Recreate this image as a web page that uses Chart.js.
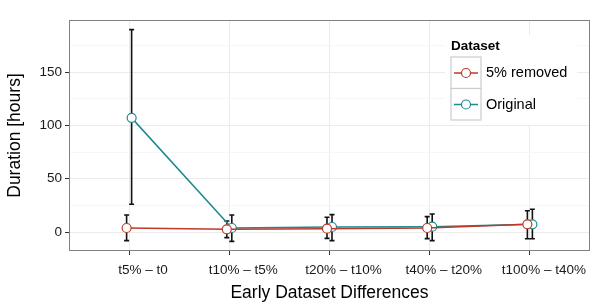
<!DOCTYPE html>
<html>
<head>
<meta charset="utf-8">
<script src="https://cdn.jsdelivr.net/npm/chart.js@4"></script>
<style>
  body { margin: 0; background: #fff; }
</style>
</head>
<body>
<canvas id="grafico" width="610" height="305"></canvas>
<script>
const categorias = ["t5% – t0", "t10% – t5%", "t20% – t10%", "t40% – t20%", "t100% – t40%"];
const removidoMedia = [3.75, 2.5, 3.1, 3.75, 7.2];
const removidoMin = [-8.1, -5.3, -6, -6.2, -6.3];
const removidoMax = [15.9, 10.3, 13.8, 14.4, 20];
const originalMedia = [107, 3.75, 4.7, 5, 7.2];
const originalMin = [26, -8.8, -8.1, -8.1, -6.3];
const originalMax = [189.7, 16, 16.3, 16.9, 21.3];
const yTicks = [0, 25, 50, 75, 100, 125, 150, 175];
const yLabels = [0, 50, 100, 150];

const fonte = "'Liberation Sans', Arial, sans-serif";
const corRemovido = "#bd3a2b";
const corOriginal = "#1b8a8f";
const dodge = 0.025;

function pontos(media, min, max, desloc) {
  return categorias.map((c, i) => ({ x: i + 1 + desloc, y: media[i], lo: min[i], hi: max[i] }));
}

/* barras de erro */
const barrasErro = {
  id: "barrasErro",
  beforeDatasetsDraw(chart) {
    const ctx = chart.ctx;
    const y = chart.scales.y;
    ctx.save();
    ctx.strokeStyle = "#111";
    ctx.lineWidth = 1.6;
    chart.data.datasets.forEach((ds, d) => {
      const meta = chart.getDatasetMeta(d);
      meta.data.forEach((el, i) => {
        const p = ds.data[i];
        const yLo = y.getPixelForValue(p.lo);
        const yHi = y.getPixelForValue(p.hi);
        ctx.beginPath();
        ctx.moveTo(el.x, yLo);
        ctx.lineTo(el.x, yHi);
        ctx.moveTo(el.x - 2.5, yLo);
        ctx.lineTo(el.x + 2.5, yLo);
        ctx.moveTo(el.x - 2.5, yHi);
        ctx.lineTo(el.x + 2.5, yHi);
        ctx.stroke();
      });
    });
    ctx.restore();
  },
};

/* borda do painel e legenda */
const painel = {
  id: "painel",
  afterDraw(chart) {
    const ctx = chart.ctx;
    const a = chart.chartArea;
    ctx.save();
    ctx.strokeStyle = "#808080";
    ctx.lineWidth = 1;
    ctx.strokeRect(a.left + 0.5, a.top + 0.5, a.right - a.left - 1, a.bottom - a.top - 1);

    // legenda
    ctx.fillStyle = "#fff";
    ctx.fillRect(445, 35, 132, 90);
    ctx.fillStyle = "#000";
    ctx.font = "bold 13.5px " + fonte;
    ctx.textBaseline = "alphabetic";
    ctx.fillText("Dataset", 451, 50);
    chart.data.datasets.forEach((ds, d) => {
      const top = 57 + d * 31.5;
      ctx.fillStyle = "#fff";
      ctx.fillRect(451, top, 30, 31.5);
      ctx.strokeStyle = "#cccccc";
      ctx.lineWidth = 1.2;
      ctx.strokeRect(451, top, 30, 31.5);
      const cy = top + 16;
      ctx.strokeStyle = ds.borderColor;
      ctx.lineWidth = 1.5;
      ctx.beginPath();
      ctx.moveTo(454, cy);
      ctx.lineTo(478, cy);
      ctx.stroke();
      ctx.beginPath();
      ctx.arc(466, cy, 4.5, 0, Math.PI * 2);
      ctx.fillStyle = "#fff";
      ctx.fill();
      ctx.lineWidth = 1.2;
      ctx.stroke();
      ctx.fillStyle = "#000";
      ctx.font = "14.5px " + fonte;
      ctx.textBaseline = "middle";
      ctx.fillText(ds.label, 486, cy);
    });
    ctx.restore();
  },
};

const ctxGrafico = document.getElementById("grafico").getContext("2d");
const grafico = new Chart(ctxGrafico, {
  type: "line",
  data: {
    datasets: [
      {
        label: "5% removed",
        data: pontos(removidoMedia, removidoMin, removidoMax, -dodge),
        borderColor: corRemovido,
        borderWidth: 1.5,
        pointBackgroundColor: "#fff",
        pointBorderColor: corRemovido,
        pointBorderWidth: 1.2,
        pointRadius: 4.5,
      },
      {
        label: "Original",
        data: pontos(originalMedia, originalMin, originalMax, dodge),
        borderColor: corOriginal,
        borderWidth: 1.5,
        pointBackgroundColor: "#fff",
        pointBorderColor: corOriginal,
        pointBorderWidth: 1.2,
        pointRadius: 4.5,
      },
    ],
  },
  options: {
    responsive: false,
    animation: false,
    devicePixelRatio: 1,
    layout: { padding: { top: 20, right: 20, left: 0, bottom: 0 } },
    plugins: {
      legend: { display: false },
      tooltip: { enabled: false },
    },
    scales: {
      x: {
        type: "linear",
        min: 0.4,
        max: 5.6,
        afterBuildTicks: (s) => {
          s.ticks = categorias.map((c, i) => ({ value: i + 1 }));
        },
        afterFit: (s) => {
          s.height = 54;
        },
        ticks: {
          callback: (v) => categorias[v - 1],
          color: "#1a1a1a",
          font: { family: fonte, size: 13.5 },
          padding: 7,
          labelOffset: 14,
          maxRotation: 0,
          autoSkip: false,
        },
        grid: {
          color: "#ebebeb",
          tickColor: "#333",
          tickLength: 4,
        },
        border: { display: false },
        title: {
          display: true,
          text: "Early Dataset Differences",
          color: "#000",
          font: { family: fonte, size: 17.5 },
          padding: { top: 0, bottom: 1 },
        },
      },
      y: {
        min: -17.8,
        max: 198.75,
        afterBuildTicks: (s) => {
          s.ticks = yTicks.map((v) => ({ value: v }));
        },
        afterFit: (s) => {
          s.width = 69;
        },
        ticks: {
          callback: (v) => (yLabels.includes(v) ? v : ""),
          color: "#1a1a1a",
          font: { family: fonte, size: 13.5 },
          padding: 3,
        },
        grid: {
          color: (c) => (yLabels.includes(c.tick.value) ? "#ebebeb" : "#f7f7f7"),
          tickColor: (c) => (yLabels.includes(c.tick.value) ? "#333" : "rgba(0,0,0,0)"),
          tickLength: 4,
        },
        border: { display: false },
        title: {
          display: true,
          text: "Duration [hours]",
          color: "#000",
          font: { family: fonte, size: 17.5 },
          padding: { top: 5, bottom: 0 },
        },
      },
    },
  },
  plugins: [barrasErro, painel],
});
</script>
</body>
</html>
